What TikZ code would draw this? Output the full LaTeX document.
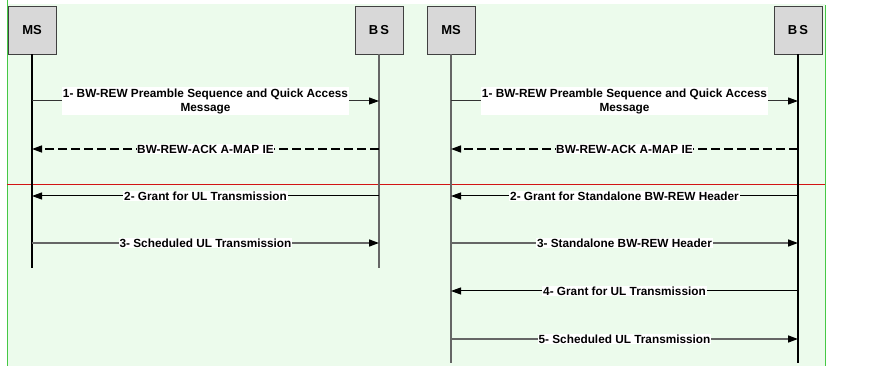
\documentclass[tikz,border=0pt]{standalone}
\usepackage{fontspec}
\setmainfont{Liberation Sans}
\usetikzlibrary{arrows.meta}

\definecolor{bggreen}{RGB}{236,251,236}
\definecolor{framegreen}{RGB}{70,200,70}
\definecolor{boxgray}{RGB}{216,216,216}
\definecolor{splitred}{RGB}{210,20,20}

\begin{document}
\begin{tikzpicture}[x=1pt,y=-1pt,
		entity/.style={draw=black!75,fill=boxgray,minimum width=48pt,minimum height=48pt,inner sep=0pt,font=\bfseries\fontsize{13}{15}\selectfont},
		lifeline/.style={line width=1.1pt},
		msg/.style={line width=1pt,-{Triangle[length=10pt,width=7pt,black]}},
		ack/.style={msg,line width=1.4pt,dash pattern=on 9pt off 4pt},
		lbl/.style={fill=white,text=black,inner sep=1pt,align=center,font=\bfseries\fontsize{11.8}{14}\selectfont}]
		\useasboundingbox (0,0) rectangle (895,366);
		
		% background and frame
		\fill[bggreen] (7,4) rectangle (825,366);
		\draw[framegreen,line width=1pt] (7,0) -- (7,366);
		\draw[framegreen,line width=1pt] (825,5) -- (825,366);
		\draw[splitred,line width=1pt] (7,185) -- (825,185);
		
		\begin{scope}[every node/.style={entity}]
			\node (msA) at (32,30) {MS};
			\node (bsA) at (379,30) {B\,S};
			\node (msB) at (451,30) {MS};
			\node (bsB) at (798,30) {B\,S};
		\end{scope}
		
		% lifelines
		\coordinate (msAend) at (32,268);
		\coordinate (bsAend) at (379,268);
		\coordinate (msBend) at (451,363);
		\coordinate (bsBend) at (798,363);
		\draw[lifeline,black] (msA) -- (msAend);
		\draw[lifeline,black!60] (bsA) -- (bsAend);
		\draw[lifeline,black!60] (msB) -- (msBend);
		\draw[lifeline,black] (bsB) -- (bsBend);
		
		\foreach \y [count=\i] in {101,149,196,243} {
			\coordinate (msA\i) at (32,\y);
			\coordinate (bsA\i) at (379,\y);
		}
		\foreach \y [count=\i] in {101,149,196,243,291,339} {
			\coordinate (msB\i) at (451,\y);
			\coordinate (bsB\i) at (798,\y);
		}
		
		\begin{scope}
			\path (msA1) edge[msg,black!80] node[lbl] {1- BW-REW Preamble Sequence and Quick Access\\Message} (bsA1);
			\path (bsA2) edge[ack] node[lbl,inner xsep=0pt] {BW-REW-ACK A-MAP IE} (msA2);
			\path (bsA3) edge[msg] node[lbl] {2- Grant for UL Transmission} (msA3);
			\path (msA4) edge[msg,black!60,line width=1.5pt] node[lbl] {3- Scheduled UL Transmission} (bsA4);
			
			\path (msB1) edge[msg,black!80] node[lbl] {1- BW-REW Preamble Sequence and Quick Access\\Message} (bsB1);
			\path (bsB2) edge[ack] node[lbl,inner xsep=0pt] {BW-REW-ACK A-MAP IE} (msB2);
			\path (bsB3) edge[msg] node[lbl] {2- Grant for Standalone BW-REW Header} (msB3);
			\path (msB4) edge[msg,black!60,line width=1.5pt] node[lbl] {3- Standalone BW-REW Header} (bsB4);
			\path (bsB5) edge[msg] node[lbl] {4- Grant for UL Transmission} (msB5);
			\path (msB6) edge[msg,black!60,line width=1.5pt] node[lbl] {5- Scheduled UL Transmission} (bsB6);
		\end{scope}
	\end{tikzpicture}
\end{document}
